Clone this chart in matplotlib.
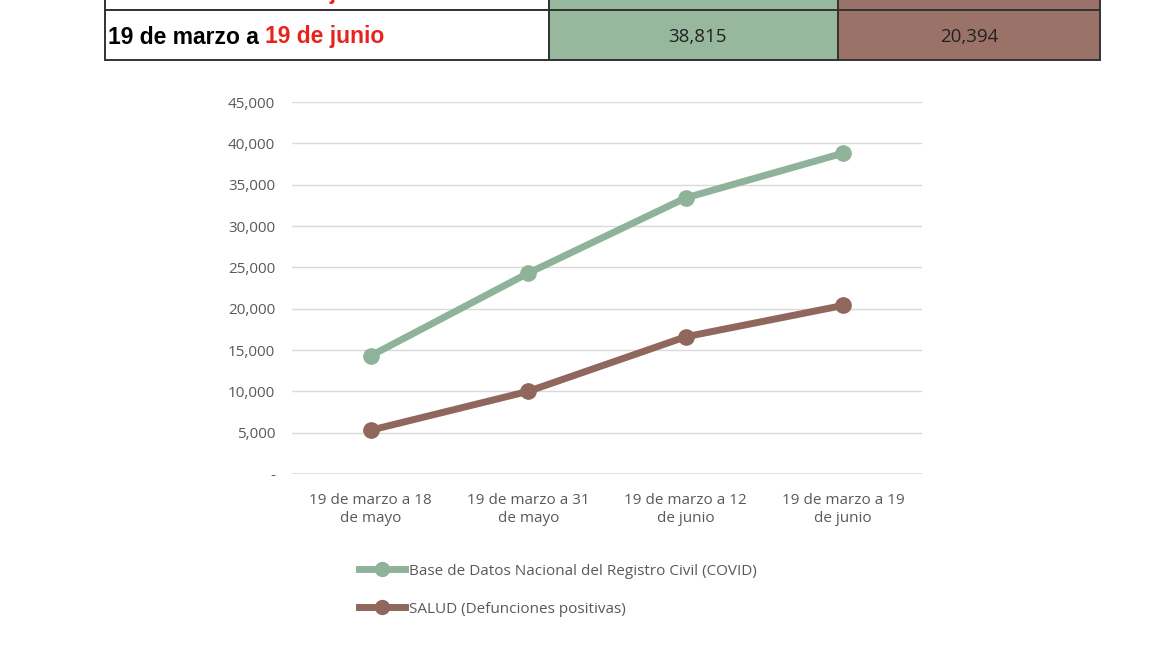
import matplotlib
matplotlib.use("Agg")
import matplotlib.pyplot as plt
from matplotlib.patches import Rectangle
from matplotlib.lines import Line2D

plt.rcParams["font.family"] = ["Open Sans", "DejaVu Sans"]

categories = ["19 de marzo a 18\nde mayo", "19 de marzo a 31\nde mayo",
              "19 de marzo a 12\nde junio", "19 de marzo a 19\nde junio"]
registro = [14300, 24300, 33400, 38815]
salud = [5300, 10000, 16600, 20394]
yticks = [0, 5000, 10000, 15000, 20000, 25000, 30000, 35000, 40000, 45000]
table_prev = ("19 de marzo a ", "12 de junio", "33,4xx", "16,6xx")
table_last = ("19 de marzo a ", "19 de junio", "38,815", "20,394")

GREEN = "#8fb39a"
BROWN = "#8f675c"
W, H = 1152, 648

fig = plt.figure(figsize=(W / 100, H / 100), dpi=100)


def fx(px):
    return px / W


def fy(py):
    return 1 - py / H


# table (top part cut off, as in the source)
for top, bot, row in ((-30, 10, table_prev), (10, 60, table_last)):
    cells = [(105, 549, "white"), (549, 838, "#97b89d"), (838, 1100, "#9a7267")]
    for x0, x1, c in cells:
        fig.patches.append(Rectangle((fx(x0), fy(bot)), fx(x1 - x0), (bot - top) / H,
                                     transform=fig.transFigure, facecolor=c,
                                     edgecolor="#333333", linewidth=1.4))
    ym = fy((top + bot) / 2 + 2)
    t1 = fig.text(fx(108), ym, row[0], fontsize=16.5, fontweight="bold", va="center",
                  family=["Liberation Sans", "DejaVu Sans"])
    fig.canvas.draw()
    bb = t1.get_window_extent()
    fig.text(bb.x1 / W, ym, row[1], fontsize=16.5, fontweight="bold", va="center",
             color="#e8231c", family=["Liberation Sans", "DejaVu Sans"])
    fig.text(fx(697), ym, row[2], fontsize=13.5, va="center", ha="center", color="#222222")
    fig.text(fx(969), ym, row[3], fontsize=13.5, va="center", ha="center", color="#222222")

ax = fig.add_axes([fx(292), fy(474), fx(922 - 292), (474 - 102) / H])
x = range(len(categories))
ax.plot(x, registro, color=GREEN, lw=5, marker="o", ms=11, solid_capstyle="round")
ax.plot(x, salud, color=BROWN, lw=5, marker="o", ms=11, solid_capstyle="round")
ax.set_xlim(-0.5, 3.5)
ax.set_ylim(0, 45000)
ax.set_yticks(yticks, ["-"] + [f"{v:,}" for v in yticks[1:]])
ax.set_xticks(list(x), categories)
ax.tick_params(length=0, labelsize=11, colors="#595959", pad=12)
ax.tick_params(axis="x", pad=14)
ax.grid(axis="y", color="#d9d9d9", lw=1)
ax.set_axisbelow(True)
for s in ax.spines.values():
    s.set_visible(False)
ax.axhline(0, color="#d9d9d9", lw=1.2)

handles = [Line2D([], [], color=GREEN, lw=5, marker="o", ms=10),
           Line2D([], [], color=BROWN, lw=5, marker="o", ms=10)]
labels = ["Base de Datos Nacional del Registro Civil (COVID)", "SALUD (Defunciones positivas)"]
fig.legend(handles, labels, loc="upper left", bbox_to_anchor=(fx(345), fy(550)),
           frameon=False, fontsize=11, labelcolor="#595959", handlelength=3.0,
           handletextpad=0.3, labelspacing=1.5)

fig.savefig("out.png", dpi=100, facecolor="white")
